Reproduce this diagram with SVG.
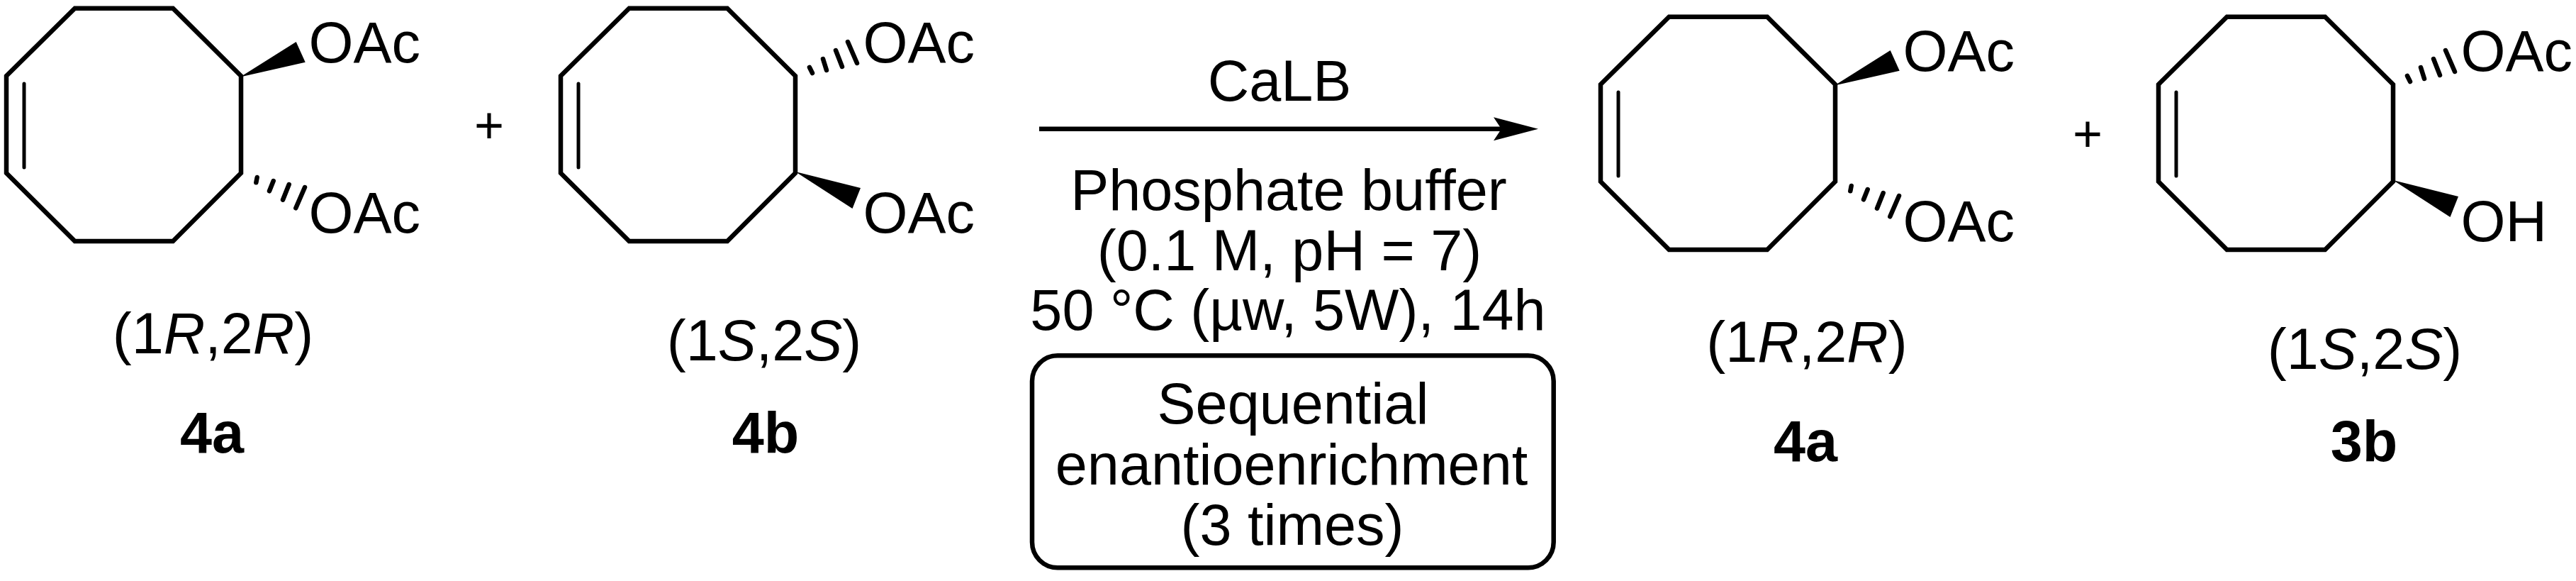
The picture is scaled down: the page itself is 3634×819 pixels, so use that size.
<svg xmlns="http://www.w3.org/2000/svg" width="3634" height="819" viewBox="0 0 3634 819">
<style>
text{font-family:"Liberation Sans",Arial,sans-serif;font-size:81px;fill:#000}
.m{text-anchor:middle}
.b{font-weight:700}
.i{font-style:italic}
.ring{fill:none;stroke:#000;stroke-width:6.5;stroke-linejoin:miter}
.inner{fill:none;stroke:#000;stroke-width:5;stroke-linecap:round}
.hash{fill:none;stroke:#000;stroke-width:6.5;stroke-linecap:round}
.box{fill:none;stroke:#000;stroke-width:6.5}
.conn{fill:none;stroke:#000;stroke-width:6.5}
</style>
<defs>
<marker id="head" markerUnits="userSpaceOnUse" markerWidth="64" markerHeight="34" refX="11" refY="16.5" orient="auto"><polygon points="0,0 63,16.5 0,33 11,16.5" fill="#000"/></marker>
<g id="ring"><polygon class="ring" points="9,107 105.6,11.7 244,11.7 340,107 340,244 244,340 105.6,340 9,244"/><line class="inner" x1="34" y1="118" x2="34" y2="236"/></g>
<g id="subA"><polygon points="339,108.5 417.7,59 430.7,87.7" fill="#000"/><path class="hash" d="M362.7,250L361.3,257.3M385.7,255L380,269.3M407.7,260L399,281.7M430,264L417.3,293.3"/></g>
<g id="subB"><polygon points="340,242 432,265 420.5,294" fill="#000"/><path class="hash" d="M360,95L364,103M379,83L384,99M397,71L406,94M414,59L427,89"/></g>
</defs>
<rect width="3634" height="819" fill="#fff"/>
<g id="connectors"><line class="conn" x1="1466" y1="181.7" x2="2118" y2="181.7" marker-end="url(#head)"/></g>
<g id="mol-4a-left">
<use href="#ring"/><use href="#subA"/>
<text x="435.4" y="87.7">OAc</text><text x="435.4" y="327.7">OAc</text>
<text class="m" x="300.5" y="497.7">(1<tspan class="i">R</tspan>,2<tspan class="i">R</tspan>)</text>
<text class="m b" x="299" y="638">4a</text>
</g>
<g id="plus-1"><text class="m" x="690" y="201" style="font-size:72px">+</text></g>
<g id="mol-4b">
<g transform="translate(782,0)"><use href="#ring"/><use href="#subB"/>
<text x="435.4" y="87.7">OAc</text><text x="435.4" y="327.7">OAc</text></g>
<text class="m" x="1078" y="507.7">(1<tspan class="i">S</tspan>,2<tspan class="i">S</tspan>)</text>
<text class="m b" x="1080" y="638">4b</text>
</g>
<g id="conditions">
<text class="m" x="1805" y="141.7">CaLB</text>
<text class="m" x="1818" y="295.7">Phosphate buffer</text>
<text class="m" x="1819" y="380.5">(0.1 M, pH = 7)</text>
<text class="m" x="1817" y="464.6">50 °C (µw, 5W), 14h</text>
</g>
<g id="box-sequential">
<rect class="box" x="1456" y="501.3" width="735.7" height="299" rx="36" ry="36"/>
<text class="m" x="1824" y="597">Sequential</text>
<text class="m" x="1822" y="683">enantioenrichment</text>
<text class="m" x="1823" y="768">(3 times)</text>
</g>
<g id="mol-4a-right">
<g transform="translate(2249,12)"><use href="#ring"/><use href="#subA"/>
<text x="435.4" y="87.7">OAc</text><text x="435.4" y="327.7">OAc</text></g>
<text class="m" x="2549" y="510">(1<tspan class="i">R</tspan>,2<tspan class="i">R</tspan>)</text>
<text class="m b" x="2547" y="650">4a</text>
</g>
<g id="plus-2"><text class="m" x="2945" y="212.5" style="font-size:72px">+</text></g>
<g id="mol-3b">
<g transform="translate(3036,12)"><use href="#ring"/><use href="#subB"/>
<text x="435.4" y="87.7">OAc</text><text x="435.4" y="327.7">OH</text></g>
<text class="m" x="3336" y="519.5">(1<tspan class="i">S</tspan>,2<tspan class="i">S</tspan>)</text>
<text class="m b" x="3335" y="650">3b</text>
</g>
</svg>
